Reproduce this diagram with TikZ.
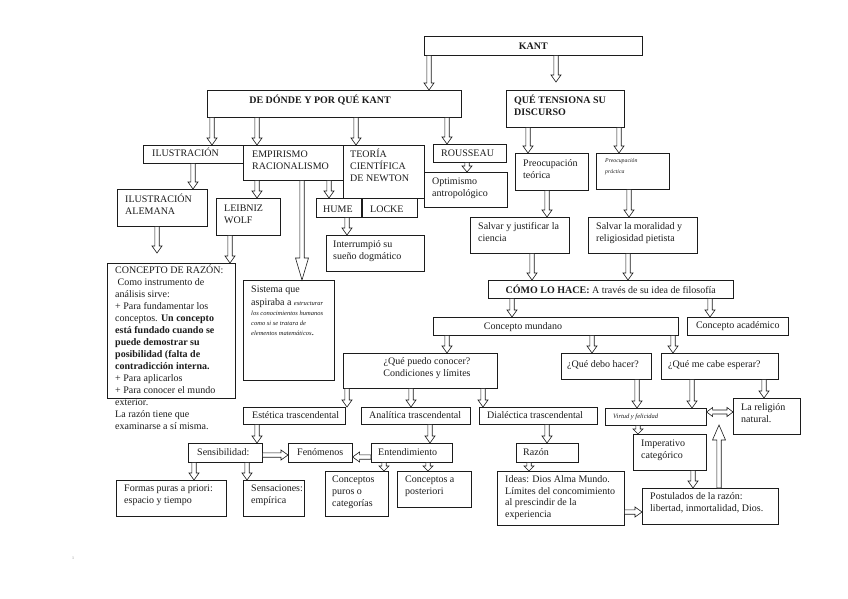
\documentclass[tikz,border=0pt]{standalone}
\usepackage{fontspec}
\setmainfont{Liberation Serif}
\usetikzlibrary{calc, positioning}
\definecolor{Ink}{HTML}{1C1C1C}
\tikzset{
  box/.style={draw=Ink, line width=0.6pt, fill=white, anchor=north west,
              inner sep=0pt, text=Ink, font=\fontsize{10}{12}\selectfont},
  % base of a text node = baseline of its LAST line
  txt/.style={anchor=base west, inner sep=0pt, align=left, text=Ink,
              font=\fontsize{10}{12}\selectfont},
  tinytxt/.style={txt, font=\fontsize{5.8}{11}\selectfont\itshape},
  arrowbody/.style 2 args={draw=Ink, line width=0.6pt, fill=white,
    to path={
      ($(\tikztostart)!2.2pt!90:(\tikztotarget)$)
      -- ($(\tikztotarget)!#1!(\tikztostart)!2.2pt!90:(\tikztotarget)$)
      -- ($(\tikztotarget)!#1!(\tikztostart)!#2!90:(\tikztotarget)$)
      -- (\tikztotarget)
      -- ($(\tikztotarget)!#1!(\tikztostart)!#2!-90:(\tikztotarget)$)
      -- ($(\tikztotarget)!#1!(\tikztostart)!2.2pt!-90:(\tikztotarget)$)
      -- ($(\tikztostart)!2.2pt!-90:(\tikztotarget)$) -- cycle}},
  blockarrow/.style={arrowbody={#1}{5pt}},
  blockarrow/.default=7pt,
  bigarrow/.style={arrowbody={#1}{6.5pt}},
  bigarrow/.default=20pt,
  dblarrow/.style={draw=Ink, line width=0.6pt, fill=white,
    to path={
      -- ($(\tikztostart)!6pt!(\tikztotarget)!4.5pt!90:(\tikztotarget)$)
      -- ($(\tikztostart)!6pt!(\tikztotarget)!2pt!90:(\tikztotarget)$)
      -- ($(\tikztotarget)!6pt!(\tikztostart)!2pt!90:(\tikztotarget)$)
      -- ($(\tikztotarget)!6pt!(\tikztostart)!4.5pt!90:(\tikztotarget)$)
      -- (\tikztotarget)
      -- ($(\tikztotarget)!6pt!(\tikztostart)!4.5pt!-90:(\tikztotarget)$)
      -- ($(\tikztotarget)!6pt!(\tikztostart)!2pt!-90:(\tikztotarget)$)
      -- ($(\tikztostart)!6pt!(\tikztotarget)!2pt!-90:(\tikztotarget)$)
      -- ($(\tikztostart)!6pt!(\tikztotarget)!4.5pt!-90:(\tikztotarget)$)
      -- cycle}},
}

\begin{document}
\begin{tikzpicture}[x=1pt, y=-1pt]
  \useasboundingbox[fill=white] (0,0) rectangle (848,599);

  % top: KANT and its two branches
  \node[box, minimum width=218pt, minimum height=19pt] (kant) at (424,36) {\textbf{KANT}};
  \node[box, minimum width=254pt, minimum height=27pt] (dedonde) at (207,90) {};
  \node[txt, anchor=base, font=\fontsize{10}{12}\selectfont\bfseries] (dedondetxt) at (320,104)
    {DE DÓNDE Y POR QUÉ KANT};
  \node[box, minimum width=118pt, minimum height=37pt] (tensiona) at (506,90) {};
  \node[txt, font=\fontsize{10}{12}\selectfont\bfseries] (tensionatxt) at (514,116)
    {QUÉ TENSIONA SU\\DISCURSO};

  % left branch, second row
  \node[box, minimum width=100pt, minimum height=18pt] (ilus) at (143,145) {};
  \node[txt] (ilustxt) at (152,157) {ILUSTRACIÓN};
  \node[box, minimum width=100pt, minimum height=35pt] (empir) at (243,145) {};
  \node[txt] (empirtxt) at (252,169) {EMPIRISMO\\RACIONALISMO};
  \node[box, minimum width=81pt, minimum height=53pt] (newton) at (343,145) {};
  \node[txt] (newtontxt) at (350,181) {TEORÍA\\CIENTÍFICA\\DE NEWTON};
  \node[box, minimum width=73pt, minimum height=18pt] (rousseau) at (433,144) {};
  \node[txt] (rousseautxt) at (441,157) {ROUSSEAU};
  \node[box, minimum width=83pt, minimum height=35pt] (optim) at (424,172) {};
  \node[txt] (optimtxt) at (432,196) {Optimismo\\antropológico};

  \node[box, minimum width=90pt, minimum height=37pt] (ilusal) at (117,189) {};
  \node[txt] (ilusaltxt) at (125,214) {ILUSTRACIÓN\\ALEMANA};
  \node[box, minimum width=64pt, minimum height=37pt] (leibniz) at (216,198) {};
  \node[txt] (leibniztxt) at (224,223) {LEIBNIZ\\WOLF};
  \node[box, minimum width=45pt, minimum height=19pt] (hume) at (316,198) {};
  \node[txt] (humetxt) at (323,212) {HUME};
  \node[box, minimum width=55pt, minimum height=19pt] (locke) at (hume.north east) {};
  \node[txt] (locketxt) at (370,212) {LOCKE};
  \node[box, minimum width=98pt, minimum height=36pt] (interr) at (326,235) {};
  \node[txt] (interrtxt) at (333,259) {Interrumpió su\\sueño dogmático};

  % the reason box; its text runs on below the frame
  \node[box, minimum width=128pt, minimum height=135pt] (concepto) at (107,263) {};
  \node[txt] (conceptotxt) at (115,429)
    {CONCEPTO DE RAZÓN:\\
     \ Como instrumento de\\
     análisis sirve:\\
     + Para fundamentar los\\
     conceptos. \textbf{Un concepto}\\
     \textbf{está fundado cuando se}\\
     \textbf{puede demostrar su}\\
     \textbf{posibilidad (falta de}\\
     \textbf{contradicción interna.}\\
     + Para aplicarlos\\
     + Para conocer el mundo\\
     exterior.\\
     La razón tiene que\\
     examinarse a sí misma.};

  \node[box, minimum width=91pt, minimum height=100pt] (sistema) at (243,280) {};
  \node[txt] (sistematxt) at (251,335)
    {Sistema que\\[1pt]
     aspiraba a {\fontsize{6.5}{8}\selectfont\itshape estructurar}\\[-2pt]
     {\fontsize{6.5}{8}\selectfont\itshape los conocimientos humanos}\\[-2pt]
     {\fontsize{6.5}{8}\selectfont\itshape como si se tratara de}\\[-2pt]
     {\fontsize{6.5}{8}\selectfont\itshape elementos matemáticos}.};

  % right branch
  \node[box, minimum width=73pt, minimum height=37pt] (preteo) at (515,153) {};
  \node[txt] (preteotxt) at (523,178) {Preocupación\\teórica};
  \node[box, minimum width=73pt, minimum height=36pt] (preprac) at (596,153) {};
  \node[tinytxt] (prepractxt) at (605,173) {Preocupación\\práctica};
  \node[box, minimum width=99pt, minimum height=36pt] (salvcien) at (470,217) {};
  \node[txt] (salvcientxt) at (478,241) {Salvar y justificar la\\ciencia};
  \node[box, minimum width=109pt, minimum height=36pt] (salvmor) at (588,217) {};
  \node[txt] (salvmortxt) at (596,241) {Salvar la moralidad y\\religiosidad pietista};
  \node[box, minimum width=245pt, minimum height=18pt] (como) at (488,280)
    {\textbf{CÓMO LO HACE:} A través de su idea de filosofía};
  \node[box, minimum width=245pt, minimum height=18pt] (mundano) at (433,317) {};
  \node[txt, anchor=base] (mundanotxt) at (523,329) {Concepto mundano};
  \node[box, minimum width=101pt, minimum height=18pt] (academico) at (687,317) {Concepto académico};

  % the three questions
  \node[box, minimum width=154pt, minimum height=35pt] (puedo) at (343,353) {};
  \node[txt, anchor=base, align=center] (puedotxt) at (427,376)
    {¿Qué puedo conocer?\\Condiciones y límites};
  \node[box, minimum width=90pt, minimum height=26pt] (debo) at (561,353) {};
  \node[txt] (debotxt) at (567,367) {¿Qué debo hacer?};
  \node[box, minimum width=117pt, minimum height=26pt] (espera) at (661,353) {};
  \node[txt] (esperatxt) at (668,367) {¿Qué me cabe esperar?};

  \node[box, minimum width=102pt, minimum height=17pt] (estetica) at (243,407) {};
  \node[txt] (esteticatxt) at (252,418) {Estética trascendental};
  \node[box, minimum width=109pt, minimum height=17pt] (analitica) at (361,407) {};
  \node[txt] (analiticatxt) at (369,418) {Analítica trascendental};
  \node[box, minimum width=118pt, minimum height=17pt] (dialectica) at (479,407) {};
  \node[txt] (dialecticatxt) at (487,418) {Dialéctica trascendental};

  \node[box, minimum width=101pt, minimum height=17pt] (virtud) at (605,408) {};
  \node[tinytxt, font=\fontsize{6.5}{8}\selectfont\itshape] (virtudtxt) at (613,418) {Virtud y felicidad};
  \node[box, minimum width=67pt, minimum height=36pt] (religion) at (733,398) {};
  \node[txt] (religiontxt) at (741,422) {La religión\\natural.};
  \node[box, minimum width=73pt, minimum height=36pt] (imperativo) at (633,434) {};
  \node[txt] (imperativotxt) at (641,458) {Imperativo\\categórico};
  \node[box, minimum width=136pt, minimum height=36pt] (postulados) at (642,488) {};
  \node[txt] (postuladostxt) at (650,511) {Postulados de la razón:\\libertad, inmortalidad, Dios.};

  % bottom row
  \node[box, minimum width=74pt, minimum height=19pt] (sensib) at (188,443) {};
  \node[txt] (sensibtxt) at (197,455) {Sensibilidad:};
  \node[box, minimum width=64pt, minimum height=19pt] (fenomenos) at (288,443) {};
  \node[txt] (fenomenostxt) at (297,455) {Fenómenos};
  \node[box, minimum width=81pt, minimum height=19pt] (entend) at (371,443) {};
  \node[txt] (entendtxt) at (378,455) {Entendimiento};
  \node[box, minimum width=62pt, minimum height=19pt] (razon) at (516,443) {};
  \node[txt] (razontxt) at (523,455) {Razón};

  \node[box, minimum width=110pt, minimum height=36pt] (formas) at (116,480) {};
  \node[txt] (formastxt) at (124,503) {Formas puras a priori:\\espacio y tiempo};
  \node[box, minimum width=61pt, minimum height=36pt] (sensac) at (243,480) {};
  \node[txt] (sensactxt) at (251,503) {Sensaciones:\\empírica};
  \node[box, minimum width=63pt, minimum height=45pt] (concpuros) at (325,471) {};
  \node[txt] (concpurostxt) at (332,506) {Conceptos\\puros o\\categorías};
  \node[box, minimum width=74pt, minimum height=36pt] (concpost) at (397,471) {};
  \node[txt] (concposttxt) at (405,494) {Conceptos a\\posteriori};
  \node[box, minimum width=127pt, minimum height=54pt] (ideas) at (497,471) {};
  \node[txt, font=\fontsize{10}{11.5}\selectfont] (ideastxt) at (505,517)
    {Ideas: Dios Alma Mundo.\\Límites del concomimiento\\al prescindir de la\\experiencia};

  \node[inner sep=0pt, text=gray, font=\fontsize{4}{4}\selectfont] (pagenum) at (73,558) {1};

  % free ends of three arrows
  \coordinate (tensionain) at (556,82);
  \coordinate (alemanaout) at (157,253);
  \coordinate (postulup) at (719,425);

  % arrows
  \draw[blockarrow] (kant.south -| 429,0) to (dedonde.north -| 429,0);
  \draw[blockarrow] (kant.south -| 556,0) to (tensionain);
  \draw[blockarrow] (dedonde.south -| 212,0) to (ilus.north -| 212,0);
  \draw[blockarrow] (dedonde.south -| 257,0) to (empir.north -| 257,0);
  \draw[blockarrow] (dedonde.south -| 356,0) to (newton.north -| 356,0);
  \draw[blockarrow] (dedonde.south -| 447,0) to (rousseau.north -| 447,0);
  \draw[blockarrow=6pt] (rousseau.south -| 467,0) to (optim.north -| 467,0);
  \draw[blockarrow] (tensiona.south -| 528,0) to (preteo.north -| 528,0);
  \draw[blockarrow] (tensiona.south -| 619,0) to (preprac.north -| 619,0);
  \draw[blockarrow] (ilus.south -| 193,0) to (ilusal.north -| 193,0);
  \draw[blockarrow] (ilusal.south -| 157,0) to (alemanaout);
  \draw[blockarrow] (empir.south -| 257,0) to (leibniz.north -| 257,0);
  \draw[bigarrow=22pt] (empir.south -| 302,0) to (sistema.north -| 302,0);
  \draw[blockarrow] (empir.south -| 329,0) to (hume.north -| 329,0);
  \draw[blockarrow] (leibniz.south -| 230,0) to (concepto.north -| 230,0);
  \draw[blockarrow] (hume.south -| 347,0) to (interr.north -| 347,0);
  \draw[blockarrow] (preteo.south -| 547,0) to (salvcien.north -| 547,0);
  \draw[blockarrow] (preprac.south -| 629,0) to (salvmor.north -| 629,0);
  \draw[blockarrow] (salvcien.south -| 532,0) to (como.north -| 532,0);
  \draw[blockarrow] (salvmor.south -| 628,0) to (como.north -| 628,0);
  \draw[blockarrow] (como.south -| 512,0) to (mundano.north -| 512,0);
  \draw[blockarrow] (como.south -| 710,0) to (academico.north -| 710,0);
  \draw[blockarrow] (mundano.south -| 447,0) to (puedo.north -| 447,0);
  \draw[blockarrow] (mundano.south -| 592,0) to (debo.north -| 592,0);
  \draw[blockarrow] (mundano.south -| 673,0) to (espera.north -| 673,0);
  \draw[blockarrow] (puedo.south -| 347,0) to (estetica.north -| 347,0);
  \draw[blockarrow] (puedo.south -| 411,0) to (analitica.north -| 411,0);
  \draw[blockarrow] (puedo.south -| 483,0) to (dialectica.north -| 483,0);
  \draw[blockarrow] (debo.south -| 637,0) to (virtud.north -| 637,0);
  \draw[blockarrow] (espera.south -| 692,0) to (virtud.north -| 692,0);
  \draw[blockarrow] (espera.south -| 764,0) to (religion.north -| 764,0);
  \draw[dblarrow] (virtud.east |- 0,412) to (religion.west |- 0,412);
  \draw[blockarrow=5pt] (virtud.south -| 638,0) to (imperativo.north -| 638,0);
  \draw[blockarrow] (imperativo.south -| 693,0) to (postulados.north -| 693,0);
  \draw[bigarrow=15pt] (postulados.north -| 719,0) to (postulup);
  \draw[blockarrow] (ideas.east |- 0,512) to (postulados.west |- 0,512);
  \draw[blockarrow] (estetica.south -| 257,0) to (sensib.north -| 257,0);
  \draw[blockarrow] (analitica.south -| 430,0) to (entend.north -| 430,0);
  \draw[blockarrow] (dialectica.south -| 547,0) to (razon.north -| 547,0);
  \draw[blockarrow] (sensib.east |- 0,455) to (fenomenos.west |- 0,455);
  \draw[blockarrow] (entend.west |- 0,457) to (fenomenos.east |- 0,457);
  \draw[blockarrow] (sensib.south -| 194,0) to (formas.north -| 194,0);
  \draw[blockarrow] (sensib.south -| 247,0) to (sensac.north -| 247,0);
  \draw[blockarrow=5pt] (entend.south -| 384,0) to (concpuros.north -| 384,0);
  \draw[blockarrow=5pt] (entend.south -| 428,0) to (concpost.north -| 428,0);
  \draw[blockarrow=5pt] (razon.south -| 529,0) to (ideas.north -| 529,0);
\end{tikzpicture}
\end{document}
